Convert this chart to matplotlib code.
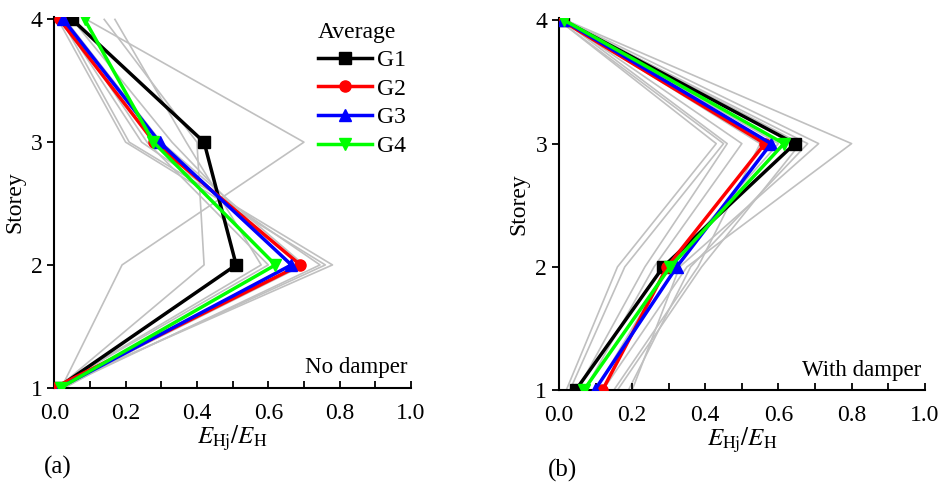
import numpy as np
import matplotlib
matplotlib.use("Agg")
import matplotlib.pyplot as plt
from matplotlib.ticker import MultipleLocator

plt.rcParams['font.family'] = ['Liberation Serif', 'DejaVu Serif']
plt.rcParams['mathtext.fontset'] = 'stix'

storey = [1, 2, 3, 4]

# panel (a) no damper: x value at storey 1..4
a_G1 = [0.01, 0.51, 0.42, 0.05]
a_G2 = [0.00, 0.69, 0.28, 0.015]
a_G3 = [0.015, 0.665, 0.295, 0.025]
a_G4 = [0.018, 0.62, 0.278, 0.085]
a_gray = [
    [0.02, 0.19, 0.70, 0.09],
    [0.01, 0.42, 0.40, 0.14],
    [0.00, 0.58, 0.37, 0.17],
    [0.01, 0.76, 0.20, 0.01],
    [0.00, 0.78, 0.21, 0.02],
    [0.02, 0.745, 0.245, 0.02],
    [0.00, 0.60, 0.26, 0.03],
    [0.01, 0.70, 0.30, 0.03],
    [0.03, 0.66, 0.33, 0.05],
]

# panel (b) with damper
b_G1 = [0.046, 0.285, 0.645, 0.012]
b_G2 = [0.119, 0.296, 0.563, 0.007]
b_G3 = [0.098, 0.322, 0.580, 0.012]
b_G4 = [0.068, 0.304, 0.615, 0.015]
b_gray = [
    [0.02, 0.16, 0.43, 0.00],
    [0.03, 0.18, 0.45, 0.00],
    [0.05, 0.235, 0.46, 0.01],
    [0.07, 0.26, 0.50, 0.01],
    [0.15, 0.38, 0.55, 0.01],
    [0.16, 0.39, 0.66, 0.02],
    [0.19, 0.36, 0.68, 0.01],
    [0.20, 0.33, 0.71, 0.02],
    [0.12, 0.35, 0.80, 0.02],
    [0.10, 0.30, 0.60, 0.01],
]

labels = ['G1', 'G2', 'G3', 'G4']
colors = ['black', '#ff0000', '#0000ff', '#00ff00']
markers = ['s', 'o', '^', 'v']


def draw(ax, gray, avgs, note, tag):
    for g in gray:
        ax.plot(g, storey, color='#c0c0c0', lw=1.2, zorder=1)
    for vals, lab, c, m in zip(avgs, labels, colors, markers):
        ax.plot(vals, storey, color=c, lw=2.5, marker=m, ms=8, label=lab, zorder=3)
    ax.set_xlim(0, 1.0)
    ax.set_ylim(1, 4.02)
    ax.spines['top'].set_visible(False)
    ax.spines['right'].set_visible(False)
    ax.spines['left'].set_linewidth(1.5)
    ax.spines['bottom'].set_linewidth(1.5)
    ax.xaxis.set_minor_locator(MultipleLocator(0.1))
    ax.set_xticks([0, 0.2, 0.4, 0.6, 0.8, 1.0])
    ax.set_xticklabels(['0.0', '0.2', '0.4', '0.6', '0.8', '1.0'])
    ax.set_yticks(storey)
    ax.tick_params(axis='x', which='both', direction='in', length=5, width=1.3,
                   labelsize=17, pad=11)
    ax.tick_params(axis='y', direction='out', length=5, width=1.3, labelsize=17)
    ax.set_xlabel(r'$E_{\mathrm{Hj}}/E_{\mathrm{H}}$', fontsize=18, labelpad=0)
    ax.set_ylabel('Storey', fontsize=17, labelpad=4)
    ax.text(0.99, 0.025, note, transform=ax.transAxes, ha='right', va='bottom',
            fontsize=16.5)
    ax.text(-0.03, -0.215, tag, transform=ax.transAxes, ha='left', va='center',
            fontsize=18)


fig = plt.figure(figsize=(9.41, 4.84), dpi=100)
ax1 = fig.add_axes([0.0577, 0.199, 0.379, 0.766])
ax2 = fig.add_axes([0.594, 0.194, 0.3887, 0.769])

draw(ax1, a_gray, [a_G1, a_G2, a_G3, a_G4], 'No damper', '(a)')
draw(ax2, b_gray, [b_G1, b_G2, b_G3, b_G4], 'With damper', '(b)')

leg = ax1.legend(title='Average', loc='upper right', bbox_to_anchor=(1.045, 1.045),
                 frameon=False, fontsize=17, title_fontsize=17, handlelength=2.3,
                 handletextpad=0.2, labelspacing=0.3)
leg._legend_box.align = 'left'

fig.savefig('out.png', dpi=100)
